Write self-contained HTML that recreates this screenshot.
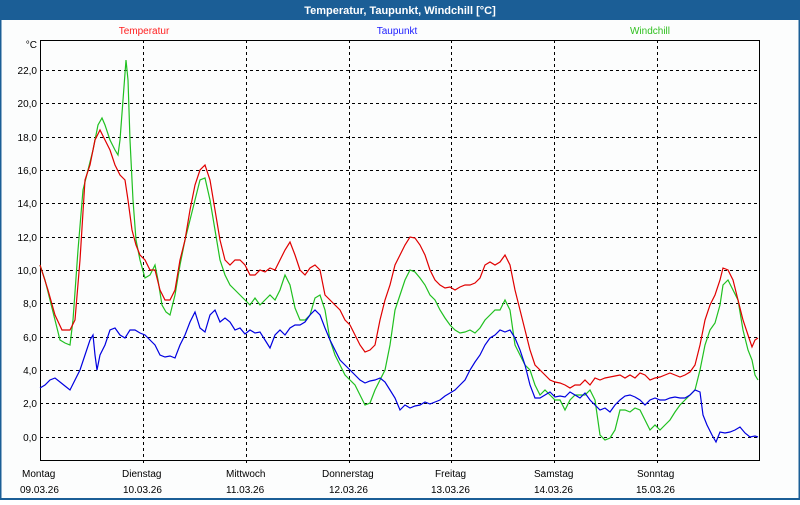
<!DOCTYPE html>
<html><head><meta charset="utf-8"><style>
body{margin:0;width:800px;height:500px;overflow:hidden;background:#fff;font-family:"Liberation Sans","DejaVu Sans",sans-serif}
</style></head><body>
<svg width="800" height="500" xmlns="http://www.w3.org/2000/svg" font-family="Liberation Sans, DejaVu Sans, sans-serif" font-size="11">
<rect x="0" y="0" width="800" height="500" fill="#1b5e96"/>
<rect x="1.5" y="20" width="797" height="478" fill="#fcfdfd"/>
<text x="400" y="14" fill="#fff" font-weight="bold" font-size="11" text-anchor="middle">Temperatur, Taupunkt, Windchill [°C]</text>
<text x="144" y="34" fill="#ff2020" text-anchor="middle" font-size="10">Temperatur</text>
<text x="397" y="34" fill="#2020ff" text-anchor="middle" font-size="10">Taupunkt</text>
<text x="650" y="34" fill="#30c020" text-anchor="middle" font-size="10">Windchill</text>
<g stroke="#000" stroke-dasharray="3,3" stroke-width="1">
<line x1="40" x2="760" y1="70.5" y2="70.5"/><line x1="40" x2="760" y1="103.5" y2="103.5"/><line x1="40" x2="760" y1="137.5" y2="137.5"/><line x1="40" x2="760" y1="170.5" y2="170.5"/><line x1="40" x2="760" y1="203.5" y2="203.5"/><line x1="40" x2="760" y1="237.5" y2="237.5"/><line x1="40" x2="760" y1="270.5" y2="270.5"/><line x1="40" x2="760" y1="303.5" y2="303.5"/><line x1="40" x2="760" y1="337.5" y2="337.5"/><line x1="40" x2="760" y1="370.5" y2="370.5"/><line x1="40" x2="760" y1="403.5" y2="403.5"/><line x1="40" x2="760" y1="437.5" y2="437.5"/>
<line x1="143.5" x2="143.5" y1="40" y2="466"/><line x1="246.5" x2="246.5" y1="40" y2="466"/><line x1="349.5" x2="349.5" y1="40" y2="466"/><line x1="451.5" x2="451.5" y1="40" y2="466"/><line x1="554.5" x2="554.5" y1="40" y2="466"/><line x1="657.5" x2="657.5" y1="40" y2="466"/>
</g>
<rect x="40.5" y="40.5" width="719" height="420" fill="none" stroke="#000" stroke-width="1"/>
<g text-anchor="end" fill="#000" font-size="10">
<text x="37" y="48">°C</text>
<text x="37" y="74">22,0</text><text x="37" y="107">20,0</text><text x="37" y="141">18,0</text><text x="37" y="174">16,0</text><text x="37" y="207">14,0</text><text x="37" y="241">12,0</text><text x="37" y="274">10,0</text><text x="37" y="307">8,0</text><text x="37" y="341">6,0</text><text x="37" y="374">4,0</text><text x="37" y="407">2,0</text><text x="37" y="441">0,0</text>
</g>
<g fill="#000" font-size="10">
<text x="22" y="477">Montag</text><text x="20" y="493">09.03.26</text>
<text x="122" y="477">Dienstag</text><text x="123" y="493">10.03.26</text>
<text x="226" y="477">Mittwoch</text><text x="226" y="493">11.03.26</text>
<text x="322" y="477">Donnerstag</text><text x="329" y="493">12.03.26</text>
<text x="435" y="477">Freitag</text><text x="431" y="493">13.03.26</text>
<text x="534" y="477">Samstag</text><text x="534" y="493">14.03.26</text>
<text x="637" y="477">Sonntag</text><text x="636" y="493">15.03.26</text>
</g>
<g fill="none" stroke-width="1.2">
<polyline stroke="#20c020" points="40,265 45,280 50,300 55,320 60,340 65,343 70,345 73,320 78,250 83,190 88,170 93,150 98,125 102,118 105,125 110,140 115,150 118,155 120,140 123,100 126,60 128,80 130,140 133,200 136,240 140,260 145,278 150,275 155,265 158,280 162,305 166,312 170,315 175,295 180,265 185,240 190,220 195,200 200,180 205,178 210,200 215,230 220,260 225,275 230,285 235,290 240,295 245,300 250,305 255,298 260,305 265,300 270,295 275,300 280,290 285,275 290,285 295,308 300,320 305,320 310,315 315,298 320,295 325,310 330,340 335,355 340,365 345,375 350,380 355,385 360,395 365,405 370,403 375,390 380,380 385,370 390,345 395,310 400,295 405,280 410,270 415,272 420,278 425,285 430,295 435,300 440,310 445,318 450,325 455,330 460,333 465,332 470,330 475,333 480,328 485,320 490,315 495,310 500,310 505,300 510,310 515,345 520,355 525,365 530,370 535,385 540,395 545,390 550,395 555,400 560,400 565,410 570,400 575,395 580,395 585,395 590,390 595,400 600,435 605,440 610,438 615,430 620,410 625,410 630,412 635,408 640,410 645,420 650,430 655,425 660,430 665,425 670,420 675,412 680,405 685,400 690,395 695,390 700,370 705,345 710,330 715,323 720,305 723,285 728,280 733,290 738,300 743,330 748,350 752,360 755,375 758,380"/>
<polyline stroke="#0000e0" points="40,388 45,385 50,380 55,378 60,382 65,386 70,390 75,380 80,370 85,355 90,340 93,335 95,355 97,370 100,355 105,345 110,330 115,328 120,335 125,338 130,330 135,330 140,333 145,335 150,340 155,345 160,355 165,357 170,356 175,358 180,345 185,335 190,322 195,312 200,328 205,332 210,315 215,310 220,322 225,318 230,322 235,330 240,328 245,334 250,330 255,333 260,332 265,340 270,348 275,335 280,330 285,335 290,328 295,325 300,325 305,322 310,315 315,310 320,315 325,328 330,340 335,350 340,360 345,365 350,370 355,375 360,380 365,383 370,381 375,380 380,378 385,382 390,390 395,398 400,410 405,405 410,408 415,406 420,405 425,402 430,404 435,402 440,400 445,396 450,393 455,390 460,385 465,380 470,370 475,362 480,355 485,345 490,338 495,335 500,330 505,332 510,330 515,338 520,350 525,365 530,385 535,398 540,398 545,395 550,392 555,397 560,396 565,397 570,392 575,395 580,398 585,393 590,400 595,405 600,410 605,408 610,412 615,405 620,400 625,396 630,395 635,397 640,400 645,405 650,400 655,398 660,400 665,400 670,398 675,397 680,398 685,398 690,395 695,390 700,392 703,415 707,425 712,435 716,442 720,432 725,433 730,432 735,430 740,427 745,433 750,437 755,436 758,437"/>
<polyline stroke="#e00000" points="40,265 48,290 55,315 62,330 70,330 75,320 80,260 85,180 90,165 95,140 100,130 105,140 110,150 115,165 120,175 125,180 128,200 132,230 136,245 140,255 145,260 150,270 155,270 160,290 165,300 170,300 175,290 180,260 185,240 190,210 195,185 200,170 205,165 210,180 215,210 220,240 225,260 230,265 235,260 240,260 245,265 250,275 255,275 260,270 265,272 270,268 275,270 280,260 285,250 290,242 295,255 300,270 305,275 310,268 315,265 320,270 325,295 330,300 335,305 340,310 345,320 350,325 355,335 360,345 365,352 370,350 375,345 380,320 385,300 390,285 395,265 400,255 405,245 410,237 415,238 420,245 425,255 430,270 435,280 440,285 445,288 450,287 455,290 460,287 465,285 470,285 475,283 480,278 485,265 490,262 495,265 500,262 505,255 510,265 515,290 520,310 525,330 530,350 535,365 540,370 545,375 550,380 555,382 560,383 565,385 570,388 575,385 580,385 585,380 590,385 595,378 600,380 605,378 610,377 615,376 620,375 625,378 630,375 635,378 640,373 645,375 650,380 655,378 660,377 665,375 670,373 675,375 680,377 685,375 690,372 695,365 700,345 705,320 710,305 715,295 720,280 723,268 728,270 733,280 738,300 743,320 748,335 752,347 755,340 758,338"/>
</g>
</svg>
</body></html>
